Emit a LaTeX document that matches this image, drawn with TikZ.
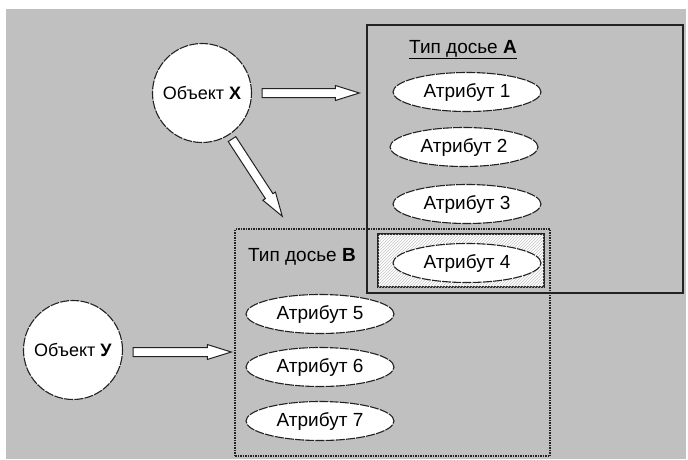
\documentclass[tikz,border=0pt]{standalone}
\usepackage{fontspec}
\setmainfont{Liberation Sans}
\usetikzlibrary{calc,patterns,shapes.geometric}
\definecolor{bggray}{HTML}{C0C0C0}
\definecolor{ink}{HTML}{222222}
\tikzset{
  boxA/.style={draw=ink, line width=1.3pt, rectangle, inner sep=0pt},
  boxB/.style={draw=ink, line width=1.5pt, densely dotted, rectangle, inner sep=0pt},
  hatchbox/.style={draw=ink, line width=1.3pt, rectangle, inner sep=0pt, fill=white,
     postaction={pattern=north east lines, pattern color=gray!45}},
  attr/.style={ellipse, draw=ink, fill=white, line width=1.1pt, dash pattern=on 9pt off 1.2pt,
     minimum width=148pt, minimum height=39pt, inner sep=0pt, font=\fontsize{19}{22}\selectfont},
  obj/.style={circle, draw=ink, fill=white, line width=1.1pt, dash pattern=on 9pt off 1.2pt,
     minimum size=99pt, inner sep=0pt, font=\fontsize{18}{21}\selectfont},
  title/.style={font=\fontsize{19}{22}\selectfont, inner sep=0pt},
  arrowline/.style={draw=ink, fill=white, line width=1pt, line join=miter},
}
\newcommand\hollowarrow[2]{%
  \coordinate (ha-s) at #1;
  \coordinate (ha-e) at #2;
  \coordinate (ha-h) at ($(ha-e)!24pt!(ha-s)$);
  \draw[arrowline] ($(ha-s)!4.5pt!90:(ha-e)$) -- ($(ha-h)!4.5pt!-90:(ha-s)$)
    -- ($(ha-h)!7.5pt!-90:(ha-s)$) -- (ha-e) -- ($(ha-h)!7.5pt!90:(ha-s)$)
    -- ($(ha-h)!4.5pt!90:(ha-s)$) -- ($(ha-s)!4.5pt!-90:(ha-e)$) -- cycle;
}
\begin{document}
\begin{tikzpicture}[x=1pt, y=-1pt]
  \useasboundingbox (0,0) rectangle (688,459);
  \fill[white] (0,0) rectangle (688,459);
  \fill[bggray] (6,9) rectangle (686,459);

  % boxes
  \node[hatchbox, minimum width=166pt, minimum height=53pt] (H) at (461,260.5) {};
  \node[boxA, minimum width=316pt, minimum height=268pt] (A) at (525,159) {};
  \node[boxB, minimum width=315pt, minimum height=227pt] (B) at (392.5,342.5) {};

  % titles
  \node[title, anchor=base] (TA) at (463,53) {\underline{Тип досье \textbf{A}}};
  \node[title, anchor=base west] (TB) at (248,261) {Тип досье \textbf{B}};

  % attributes
  \node[attr] (a1) at (467,92) {Атрибут 1};
  \node[attr] (a2) at (464,147) {Атрибут 2};
  \node[attr] (a3) at (467,204) {Атрибут 3};
  \node[attr] (a4) at (467,263) {Атрибут 4};
  \node[attr] (a5) at (320,314) {Атрибут 5};
  \node[attr] (a6) at (320,367) {Атрибут 6};
  \node[attr] (a7) at (320,421) {Атрибут 7};

  % objects
  \node[obj] (X) at (202,93) {Объект \textbf{X}};
  \node[obj] (Y) at (73,350) {Объект \textbf{У}};

  % arrows
  \coordinate (xbEnd) at ($(B.north west)+(48,-12)$);
  \hollowarrow{($(X.east)+(10,0)$)}{($(A.west |- X.east)+(-7,0)$)}
  \hollowarrow{($(X)!55pt!(xbEnd)$)}{(xbEnd)}
  \hollowarrow{($(Y.east)+(10,2)$)}{($(B.west |- Y.east)+(-3,2)$)}
\end{tikzpicture}
\end{document}
